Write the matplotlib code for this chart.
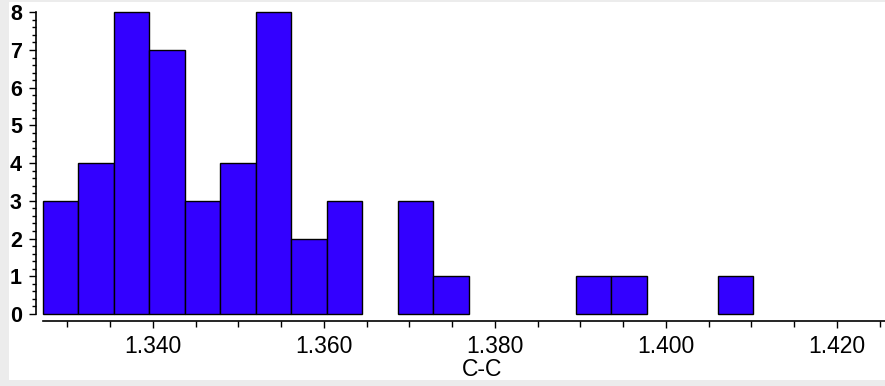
import numpy as np
import matplotlib.pyplot as plt
from matplotlib.patches import Rectangle
from matplotlib.ticker import MultipleLocator, FormatStrFormatter

# histogram of C-C bond lengths, 20 bins
bin_lo = 1.3271
bin_hi = 1.4102
counts = [3, 4, 8, 7, 3, 4, 8, 2, 3, 0, 3, 1, 0, 0, 0, 1, 1, 0, 0, 1]
y_ticks = [0, 1, 2, 3, 4, 5, 6, 7, 8]
x_label = "C-C"

plt.rcParams['font.family'] = ['Liberation Sans', 'DejaVu Sans']

W, H = 885, 386
fig = plt.figure(figsize=(W / 100, H / 100), dpi=100, facecolor='#ececec')
# white panel behind everything
fig.patches.append(Rectangle((9 / W, (H - 380) / H), 1 - 9 / W, (380 - 2) / H,
                             transform=fig.transFigure, facecolor='white',
                             edgecolor='none', zorder=-10))

left_px, right_px, top_px, base_px = 42.7, 885, 12.3, 314
ax = fig.add_axes([left_px / W, (H - base_px) / H, (right_px - left_px) / W, (base_px - top_px) / H])
ax.patch.set_alpha(0)

edges = np.linspace(bin_lo, bin_hi, len(counts) + 1)
width = edges[1] - edges[0]
px_per_unit = 8550
for e, c in zip(edges[:-1], counts):
    if c > 0:
        ax.bar(e, c, width=width, align='edge', color='#3300ff', edgecolor='black',
               linewidth=1.0, clip_on=False)

ax.set_xlim(bin_lo, bin_lo + (right_px - left_px) / px_per_unit)
ax.set_ylim(0, 8)

for s in ['top', 'right']:
    ax.spines[s].set_visible(False)
ax.spines['left'].set_position(('outward', 5))
ax.spines['bottom'].set_position(('outward', 5))
ax.spines['left'].set_linewidth(1.2)
ax.spines['bottom'].set_linewidth(1.2)

ax.xaxis.set_major_locator(MultipleLocator(0.02))
ax.xaxis.set_minor_locator(MultipleLocator(0.005))
ax.xaxis.set_major_formatter(FormatStrFormatter('%.3f'))
ax.set_yticks(y_ticks)
ax.set_yticklabels([str(v) for v in y_ticks], fontsize=15.5, fontweight='bold')
ax.yaxis.set_minor_locator(MultipleLocator(0.2))

ax.tick_params(axis='x', which='major', length=5, width=1, labelsize=16.5, pad=5)
ax.tick_params(axis='x', which='minor', length=4, width=1)
ax.tick_params(axis='y', which='major', length=5, width=1, pad=5)
ax.tick_params(axis='y', which='minor', length=3, width=1)

ax.set_xlabel(x_label, fontsize=16.5, labelpad=0)
ax.xaxis.set_label_coords((482 - left_px) / (right_px - left_px), -(369 - base_px) / (base_px - top_px))
ax.xaxis.label.set_va('center')

fig.savefig('out.png', dpi=100, facecolor=fig.get_facecolor())
